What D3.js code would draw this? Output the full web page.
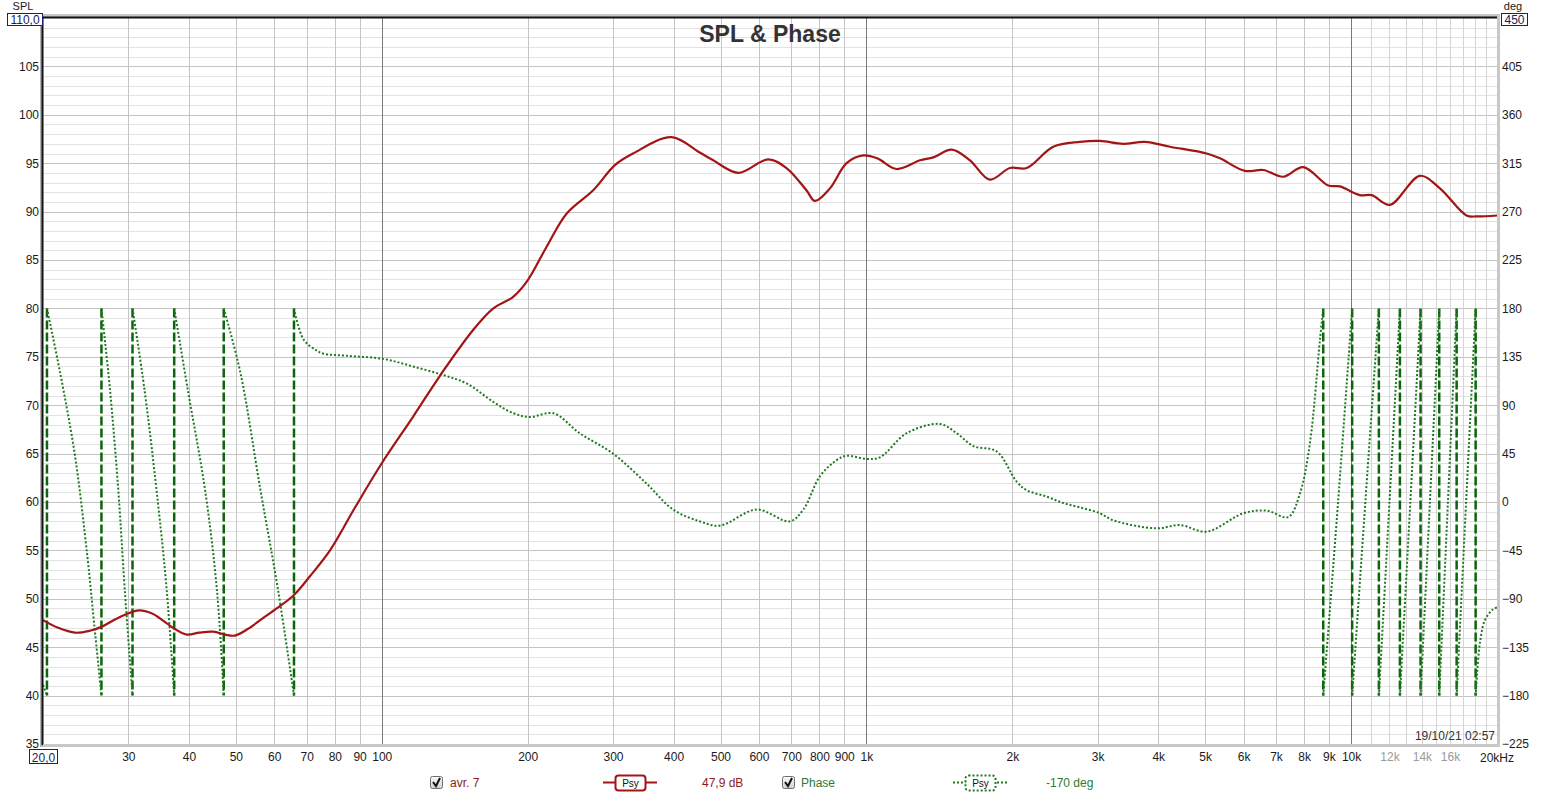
<!DOCTYPE html>
<html>
<head>
<meta charset="utf-8">
<script src="https://cdn.jsdelivr.net/npm/d3@7"></script>
<style>
  body { margin: 0; background: #fff; }
  svg text { font-family: Arial, "Liberation Sans", sans-serif; }
</style>
</head>
<body>
<svg id="chart" width="1554" height="797"></svg>
<script>
// SPL curve (Hz, dB)
const splFreq = [20, 21.5, 23.3, 25, 26.4, 28.5, 31.5, 33.5, 35.5, 37.1, 39.6, 42, 44.9, 47.5, 49.8, 53, 56.5, 60.7, 65.9, 71, 78.2,
  88, 100, 116, 132.9, 154.5, 169.9, 186.7, 200, 219, 240.8, 273, 302.7, 330, 396, 453, 483, 544, 627, 684, 752, 783, 841, 910,
  985, 1053, 1154, 1290, 1374, 1500, 1635, 1798, 1977, 2141, 2429, 2757, 3032, 3387, 3754, 4228, 5035, 5363, 6040, 6588, 7245,
  7966, 8972, 9483, 10428, 11023, 12023, 13868, 15249, 17304, 18160, 20000];
const splDb = [47.8, 47.0, 46.5, 46.7, 47.1, 48.0, 48.8, 48.5, 47.7, 47.0, 46.3, 46.5, 46.6, 46.3, 46.2, 46.9, 47.9, 49.0, 50.4, 52.3, 55.0,
  59.4, 64.0, 68.8, 73.3, 77.8, 80.0, 81.2, 82.9, 86.4, 89.8, 92.2, 94.8, 96.0, 97.7, 96.1, 95.3, 94.0, 95.4, 94.5, 92.2, 91.1, 92.4, 95.0,
  95.8, 95.5, 94.4, 95.3, 95.6, 96.4, 95.3, 93.3, 94.5, 94.5, 96.7, 97.2, 97.3, 97.0, 97.2, 96.7, 96.0, 95.5, 94.2, 94.3, 93.6,
  94.6, 92.7, 92.6, 91.7, 91.7, 90.7, 93.7, 92.4, 89.6, 89.5, 89.6];

// wrapped phase (Hz, deg); a wrap is a repeated frequency going -180 -> 180 or back
const phaseFreq = [20, 20.38,
  20.38, 21.7, 23.3, 24.7, 25.5, 26.4,
  26.4, 27.5, 28.6, 29.5, 30.6,
  30.6, 32.4, 34.3, 36.0, 37.3,
  37.3, 39.8, 43.2, 45.7, 47.2,
  47.2, 51.1, 56.2, 61.1, 65.9,
  65.9, 69, 73.3, 75.7, 84.6, 100.8, 116, 134, 150, 170, 187, 202, 226, 256, 300, 352, 399, 453, 498, 594, 695, 741, 802,
  868, 910, 1001, 1066, 1211, 1418, 1535, 1662, 1857, 2041, 2141, 2354, 2547, 2757, 3032, 3230, 3970, 4435, 5035, 5992, 6694,
  7418, 7842, 8224, 8624, 8760,
  8760, 9400, 10050,
  10050, 10700, 11410,
  11410, 12000, 12610,
  12610, 13250, 13910,
  13910, 14540, 15200,
  15200, 15840, 16510,
  16510, 17270, 18070,
  18070, 18200, 18440, 18880, 19600, 20000];
const phaseDeg = [-170, -180,
  180, 120, 42, -51, -113, -180,
  180, 104, 11, -82, -180,
  180, 104, 11, -82, -180,
  180, 104, 11, -82, -180,
  180, 120, 11, -82, -180,
  180, 151, 141, 138, 136, 133, 126, 118, 110, 93, 82.5, 79, 82.5, 64, 45, 17, -7, -18, -22, -7, -18, -7, 24,
  39, 43, 40, 41.5, 64, 72.5, 64, 52, 47, 19, 11, 5, -1, -5, -10.5, -17, -24.5, -21.4, -27.6, -10.5, -8,
  -14, 8, 55, 151, 180,
  -180, 0, 180,
  -180, 0, 180,
  -180, 0, 180,
  -180, 0, 180,
  -180, 0, 180,
  -180, 0, 180,
  -180, 0, 180,
  -180, -159, -131, -110, -100, -98];

const splTicks = [35, 40, 45, 50, 55, 60, 65, 70, 75, 80, 85, 90, 95, 100, 105];
const phaseTicks = [-225, -180, -135, -90, -45, 0, 45, 90, 135, 180, 225, 270, 315, 360, 405];
const freqTicks = [30, 40, 50, 60, 70, 80, 90, 100, 200, 300, 400, 500, 600, 700, 800, 900,
  1000, 2000, 3000, 4000, 5000, 6000, 7000, 8000, 9000, 10000, 12000, 14000, 16000];
const freqTickText = ["30", "40", "50", "60", "70", "80", "90", "100", "200", "300", "400", "500", "600", "700", "800", "900",
  "1k", "2k", "3k", "4k", "5k", "6k", "7k", "8k", "9k", "10k", "12k", "14k", "16k"];
const greyFreqTicks = [12000, 14000, 16000];

const pL = 43, pR = 1497, pT = 18, pB = 744;
const svg = d3.select("#chart");

const x = d3.scaleLog().domain([20, 20000]).range([pL, pR]);
const ySpl = d3.scaleLinear().domain([35, 110]).range([pB, pT]);
const yPh = d3.scaleLinear().domain([-225, 450]).range([pB, pT]);

// grid
const grid = svg.append("g");
for (let v = 36; v < 110; v++) {
  const yy = Math.round(ySpl(v)) + 0.5;
  grid.append("line")
    .attr("x1", pL).attr("x2", pR)
    .attr("y1", yy).attr("y2", yy)
    .attr("stroke", v % 5 === 0 ? "#c4c4c4" : "#e2e2e2").attr("stroke-width", 1);
}
const vLines = [];
[10, 100, 1000].forEach(d => { for (let m = 2; m <= 9; m++) vLines.push(m * d); });
vLines.push(100, 1000, 10000);
for (let k = 11; k <= 19; k++) vLines.push(k * 1000);
vLines.filter(f => f > 20 && f < 20000).forEach(f => {
  const dark = f === 100 || f === 1000 || f === 10000;
  grid.append("line")
    .attr("x1", Math.round(x(f)) + 0.5).attr("x2", Math.round(x(f)) + 0.5)
    .attr("y1", pT).attr("y2", pB)
    .attr("stroke", dark ? "#7a7a7a" : (f > 10000 ? "#d4d4d4" : "#c4c4c4")).attr("stroke-width", 1);
});

// phase: split where the value wraps
const phasePts = phaseFreq.map((f, i) => [f, phaseDeg[i]]);
const segments = [];
const wraps = [];
let cur = [phasePts[0]];
for (let i = 1; i < phasePts.length; i++) {
  if (Math.abs(phasePts[i][1] - phasePts[i - 1][1]) > 270) {
    segments.push(cur);
    wraps.push(phasePts[i][0]);
    cur = [];
  }
  cur.push(phasePts[i]);
}
segments.push(cur);

const phaseLine = d3.line()
  .x(d => x(d[0])).y(d => yPh(d[1]))
  .curve(d3.curveCatmullRom.alpha(0.5));

svg.append("g").selectAll("line")
  .data(wraps)
  .enter().append("line")
  .attr("x1", d => x(d)).attr("x2", d => x(d))
  .attr("y1", yPh(180)).attr("y2", yPh(-180))
  .attr("stroke", "#0b650b").attr("stroke-width", 2.5)
  .attr("stroke-dasharray", "9,3");

svg.append("g").selectAll("path")
  .data(segments)
  .enter().append("path")
  .attr("d", phaseLine)
  .attr("fill", "none")
  .attr("stroke", "#1f7a1f").attr("stroke-width", 2)
  .attr("stroke-dasharray", "2,2");

// SPL
const splLine = d3.line()
  .x((d, i) => x(splFreq[i])).y(d => ySpl(d))
  .curve(d3.curveCatmullRom.alpha(0.5));
svg.append("path")
  .datum(splDb)
  .attr("d", splLine)
  .attr("fill", "none")
  .attr("stroke", "#a31515").attr("stroke-width", 2.2);

// frame
svg.append("rect").attr("x", 40).attr("y", 14).attr("width", pR - 40 + 3).attr("height", 4).attr("fill", "#c8c8c8");
svg.append("rect").attr("x", 40).attr("y", 14).attr("width", 3).attr("height", pB - 14 + 3).attr("fill", "#b4b4b4");
svg.append("line").attr("x1", pL - 1).attr("x2", pR).attr("y1", pT - 0.5).attr("y2", pT - 0.5)
  .attr("stroke", "#111").attr("stroke-width", 2);
svg.append("line").attr("x1", pL - 0.5).attr("x2", pL - 0.5).attr("y1", pT - 1).attr("y2", pB + 1)
  .attr("stroke", "#111").attr("stroke-width", 2);
svg.append("rect").attr("x", pR).attr("y", pT).attr("width", 3).attr("height", pB - pT + 3).attr("fill", "#c8c8c8");
svg.append("rect").attr("x", pL).attr("y", pB).attr("width", pR - pL + 3).attr("height", 3).attr("fill", "#c8c8c8");

// axes
const axL = svg.append("g").attr("transform", `translate(${pL},0)`)
  .call(d3.axisLeft(ySpl).tickValues(splTicks).tickSize(0).tickPadding(4));
const axR = svg.append("g").attr("transform", `translate(${pR},0)`)
  .call(d3.axisRight(yPh).tickValues(phaseTicks).tickSize(0).tickPadding(5));
const axB = svg.append("g").attr("transform", `translate(0,${pB})`)
  .call(d3.axisBottom(x).tickValues(freqTicks).tickSize(0).tickPadding(8)
    .tickFormat(d => freqTickText[freqTicks.indexOf(d)]));
[axL, axR, axB].forEach(a => {
  a.select(".domain").remove();
  a.selectAll("text").attr("font-size", 12).attr("fill", "#1a1a1a")
    .attr("font-family", "Arial, 'Liberation Sans', sans-serif");
});
axB.selectAll("text").filter(d => greyFreqTicks.includes(d)).attr("fill", "#9a9a9a");

// axis unit names, drawn before the boxes so the boxes sit on top
svg.append("text").attr("x", 23).attr("y", 10).attr("text-anchor", "middle").attr("font-size", 11).attr("fill", "#1a1a1a").text("SPL");
svg.append("text").attr("x", 1513).attr("y", 10).attr("text-anchor", "middle").attr("font-size", 11).attr("fill", "#1a1a1a").text("deg");

// boxed end values
function boxLabel(bx, by, w, h, txt) {
  svg.append("rect").attr("x", bx + 0.5).attr("y", by + 0.5).attr("width", w).attr("height", h)
    .attr("fill", "#fff").attr("stroke", "#1c1c78").attr("stroke-width", 1);
  svg.append("text").attr("x", bx + w / 2 + 0.5).attr("y", by + h - 1.5).attr("text-anchor", "middle")
    .attr("font-size", 12).attr("fill", "#1c1c60").text(txt);
}
boxLabel(7, 13, 35, 12, "110,0");
boxLabel(1501, 13, 26, 12, "450");
boxLabel(29, 749, 28, 14, "20,0");

svg.append("text").attr("x", pR - 17).attr("y", pB + 18).attr("font-size", 12).attr("fill", "#1a1a1a").text("20kHz");

// title and time stamp
svg.append("text").attr("x", 770).attr("y", 42).attr("text-anchor", "middle")
  .attr("font-size", 23).attr("font-weight", "bold").attr("fill", "#333").text("SPL & Phase");
svg.append("text").attr("x", 1495).attr("y", 740).attr("text-anchor", "end")
  .attr("font-size", 12).attr("fill", "#333").text("19/10/21 02:57");

// legend
const defs = svg.append("defs");
const grad = defs.append("linearGradient").attr("id", "cb").attr("x1", 0).attr("y1", 0).attr("x2", 0).attr("y2", 1);
grad.append("stop").attr("offset", 0).attr("stop-color", "#fafafa");
grad.append("stop").attr("offset", 1).attr("stop-color", "#cfcfcf");

function checkbox(cx) {
  svg.append("rect").attr("x", cx + 0.5).attr("y", 776.5).attr("width", 12).attr("height", 12).attr("rx", 2)
    .attr("fill", "url(#cb)").attr("stroke", "#6e6e6e");
  svg.append("path").attr("d", `M${cx + 3},${782} L${cx + 6},${786} L${cx + 10},${778}`)
    .attr("fill", "none").attr("stroke", "#111").attr("stroke-width", 2);
}
function symbol(sx, color, dashed) {
  svg.append("line").attr("x1", sx).attr("x2", sx + 54).attr("y1", 782.5).attr("y2", 782.5)
    .attr("stroke", color).attr("stroke-width", 2).attr("stroke-dasharray", dashed ? "2,2" : null);
  svg.append("rect").attr("x", sx + 12.5).attr("y", 775.5).attr("width", 30).attr("height", 15).attr("rx", 3)
    .attr("fill", "#fff").attr("stroke", color).attr("stroke-width", 2).attr("stroke-dasharray", dashed ? "2,2" : null);
  svg.append("text").attr("x", sx + 27.5).attr("y", 787).attr("text-anchor", "middle")
    .attr("font-size", 10).attr("fill", "#111").text("Psy");
}
checkbox(430);
svg.append("text").attr("x", 450).attr("y", 787).attr("font-size", 12).attr("fill", "#8c1c1c").text("avr. 7");
symbol(603, "#a31515", false);
svg.append("text").attr("x", 702).attr("y", 787).attr("font-size", 12).attr("fill", "#8c1c1c").text("47,9 dB");
checkbox(782);
svg.append("text").attr("x", 801).attr("y", 787).attr("font-size", 12).attr("fill", "#2e7a2e").text("Phase");
symbol(953, "#1f7a1f", true);
svg.append("text").attr("x", 1046).attr("y", 787).attr("font-size", 12).attr("fill", "#2e7a2e").text("-170 deg");
</script>
</body>
</html>
